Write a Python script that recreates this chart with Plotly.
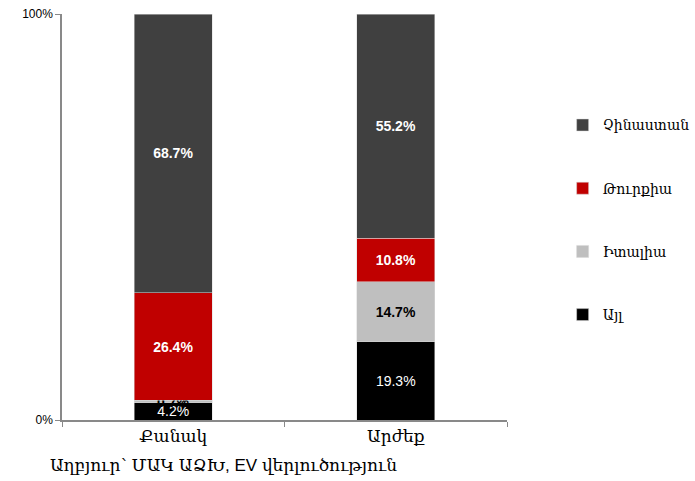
import plotly.graph_objects as go

# categories and shares (%), stacked bottom -> top
categories = ["Քանակ", "Արժեք"]
series_names = ["Այլ", "Իտալիա", "Թուրքիա", "Չինաստան"]
series_values = {
    "Այլ": [4.2, 19.3],
    "Իտալիա": [0.7, 14.7],
    "Թուրքիա": [26.4, 10.8],
    "Չինաստան": [68.7, 55.2],
}
y_tick_vals = [0, 100]
y_tick_text = ["0%", "100%"]
source_note = "Աղբյուր՝ ՄԱԿ ԱՁԽ, EV վերլուծություն"

_FONT = "Arial, Liberation Sans, DejaVu Serif"
_COLORS = {
    "Այլ": "#000000",
    "Իտալիա": "#bfbfbf",
    "Թուրքիա": "#c00000",
    "Չինաստան": "#404040",
}
_TEXT_COLORS = {
    "Այլ": "#ffffff",
    "Իտալիա": "#000000",
    "Թուրքիա": "#ffffff",
    "Չինաստան": "#ffffff",
}
_BOLD = {"Այլ": False, "Իտալիա": True, "Թուրքիա": True, "Չինաստան": True}

fig = go.Figure()
for i, name in enumerate(series_names):
    vals = series_values[name]
    template = "<b>%{y:.1f}%</b>" if _BOLD[name] else "%{y:.1f}%"
    fig.add_trace(
        go.Bar(
            x=categories,
            y=vals,
            name=name,
            legendgroup=name,
            legendrank=len(series_names) - i,  # top of the stack first in legend
            marker={"color": _COLORS[name], "line": {"color": "#d9d9d9", "width": 0.5}},
            texttemplate=template,
            textposition="inside",
            insidetextanchor="middle",
            constraintext="none",
            textfont={"color": _TEXT_COLORS[name], "size": 14, "family": "Arial, Liberation Sans"},
            hoverinfo="skip",
        )
    )

fig.update_layout(
    barmode="stack",
    bargap=0.65,
    width=695,
    height=481,
    margin={"l": 62, "r": 188, "t": 14, "b": 61, "autoexpand": False},
    plot_bgcolor="white",
    paper_bgcolor="white",
    font={"family": _FONT, "color": "#000000", "size": 12},
    uniformtext={"mode": False},
    legend={
        "traceorder": "grouped",
        "tracegroupgap": 42,
        "x": 1.125,
        "xanchor": "left",
        "y": 0.765,
        "yanchor": "top",
        "font": {"size": 14, "family": _FONT},
        "itemwidth": 30,
    },
    annotations=[
        {
            "text": source_note,
            "xref": "paper",
            "yref": "paper",
            "x": -0.032,
            "y": -0.113,
            "xanchor": "left",
            "yanchor": "middle",
            "showarrow": False,
            "font": {"size": 17, "family": _FONT},
        }
    ],
)
fig.update_xaxes(
    showline=True,
    linecolor="#898989",
    linewidth=1.5,
    ticks="outside",
    tickson="boundaries",
    ticklen=5,
    tickcolor="#898989",
    showgrid=False,
    automargin=False,
    tickfont={"size": 17},
)
fig.update_yaxes(
    range=[0, 100],
    tickvals=y_tick_vals,
    ticktext=y_tick_text,
    showline=True,
    linecolor="#898989",
    linewidth=1.5,
    ticks="outside",
    ticklen=5,
    tickcolor="#898989",
    showgrid=False,
    zeroline=False,
    automargin=False,
    tickfont={"size": 12},
)

# drop the page's default body margin so the figure sits at the window origin
fig.write_html(
    "out.html",
    config={"displayModeBar": False},
    post_script="document.body.style.margin = '0';",
)
